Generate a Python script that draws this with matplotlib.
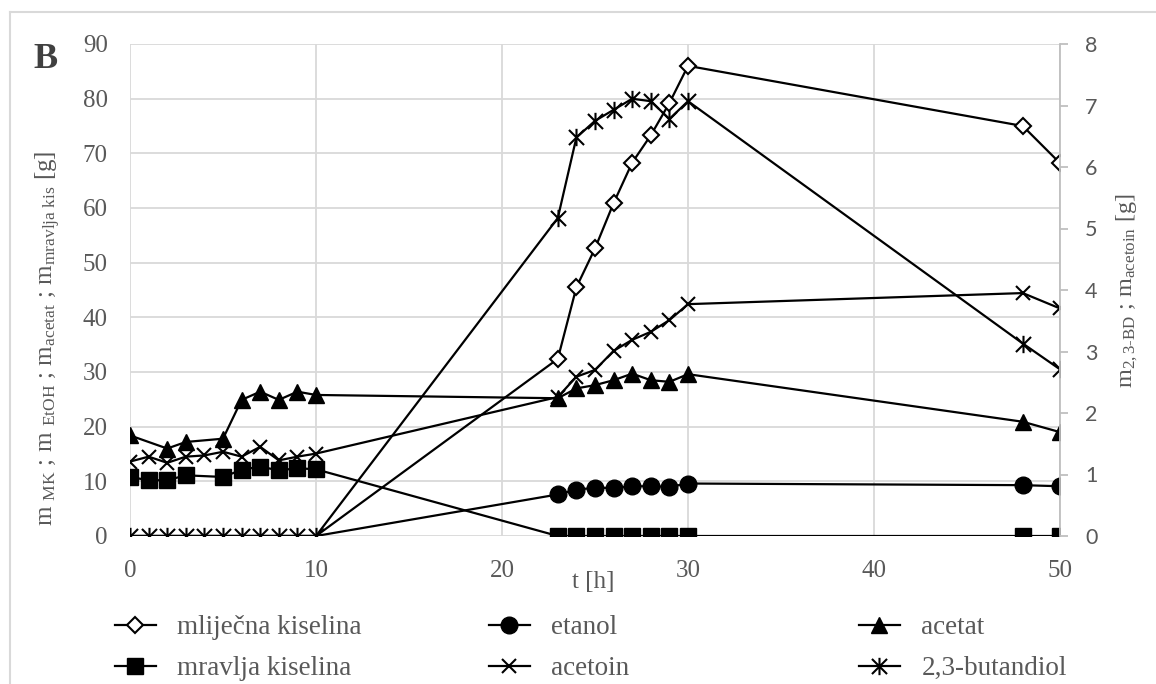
import numpy as np
import matplotlib
matplotlib.use("Agg")
import matplotlib.pyplot as plt
from matplotlib.path import Path
from matplotlib.lines import Line2D

plt.rcParams["font.family"] = ["Liberation Serif", "DejaVu Serif"]
plt.rcParams["mathtext.fontset"] = "custom"
plt.rcParams["mathtext.rm"] = "Liberation Serif"
plt.rcParams["mathtext.it"] = "Liberation Serif:italic"

# sampling times [h]
t = [0, 1, 2, 3, 4, 5, 6, 7, 8, 9, 10, 23, 24, 25, 26, 27, 28, 29, 30, 48, 50]

# left axis [g]
mlijecna = [0] * 11 + [32.4, 45.5, 52.6, 60.9, 68.3, 73.3, 79.2, 86.0, 75.0, 68.2]
etanol = [0] * 11 + [7.6, 8.5, 8.8, 8.8, 9.1, 9.1, 9.0, 9.6, 9.3, 9.1]
acetat = [18.4, None, 16.0, 17.2, None, 17.8, 24.9, 26.4, 24.9, 26.4, 25.8,
          25.2, 27.0, 27.6, 28.5, 29.7, 28.5, 28.2, 29.6, 20.9, 19.0]
mravlja = [10.8, 10.2, 10.2, 11.1, None, 10.8, 12.1, 12.7, 12.0, 12.4, 12.2] + [0] * 10

# right axis [g]
acetoin = [1.21, 1.29, 1.19, 1.29, 1.31, 1.37, 1.29, 1.45, 1.23, 1.29, 1.34,
           2.26, 2.59, 2.70, 3.01, 3.19, 3.32, 3.51, 3.77, 3.95, 3.70]
butandiol = [0] * 11 + [5.17, 6.48, 6.75, 6.93, 7.11, 7.07, 6.78, 7.07, 3.13, 2.71]

left_ticks = [0, 10, 20, 30, 40, 50, 60, 70, 80, 90]
right_ticks = [0, 1, 2, 3, 4, 5, 6, 7, 8]
x_ticks = [0, 10, 20, 30, 40, 50]

GRAY = "#595959"
GRID = "#d9d9d9"

# excel style star: x with a vertical bar
star = Path([(-1, -1), (1, 1), (-1, 1), (1, -1), (0, -1.15), (0, 1.15)],
            [Path.MOVETO, Path.LINETO, Path.MOVETO, Path.LINETO, Path.MOVETO, Path.LINETO])


def pts(xs, ys):
    keep = [(a, b) for a, b in zip(xs, ys) if b is not None]
    return [a for a, b in keep], [b for a, b in keep]


fig = plt.figure(figsize=(11.56, 6.84), dpi=100)
W, H = 1156, 684
ax = fig.add_axes([130 / W, (H - 536) / H, (1060 - 130) / W, (536 - 44) / H])
ax2 = ax.twinx()

# markers of the zero points before 10 h are not visible in the original
late = list(range(11, len(t)))
styles = [
    (ax, mlijecna, "mliječna kiselina", dict(marker="D", ms=8, mfc="white", mec="black", mew=1.5, markevery=late)),
    (ax, etanol, "etanol", dict(marker="o", ms=12, mfc="black", mec="black", markevery=late)),
    (ax, acetat, "acetat", dict(marker="^", ms=12, mfc="black", mec="black")),
    (ax, mravlja, "mravlja kiselina", dict(marker="s", ms=12, mfc="black", mec="black")),
    (ax2, acetoin, "acetoin", dict(marker="x", ms=10.5, mec="black", mew=1.5)),
    (ax2, butandiol, "2,3-butandiol", dict(marker=star, ms=12.5, mfc="none", mec="black", mew=1.5)),
]
handles = []
for a, ys, name, kw in styles:
    xs, vs = pts(t, ys)
    ln, = a.plot(xs, vs, color="black", lw=1.6, label=name, **kw)
    handles.append(ln)

ax.set_xlim(0, 50)
ax.set_ylim(0, 90)
ax2.set_ylim(0, 8)
ax.set_xticks(x_ticks)
ax.set_yticks(left_ticks)
ax2.set_yticks(right_ticks)
ax.grid(True, color=GRID, lw=1.3)
ax.set_axisbelow(True)
for s in ax.spines.values():
    s.set_visible(False)
for s in ["top", "left", "bottom"]:
    ax2.spines[s].set_visible(False)
ax2.spines["right"].set_color("#bfbfbf")
ax2.spines["right"].set_linewidth(1.3)

ax.tick_params(axis="both", length=0, labelsize=18, labelcolor=GRAY)
ax.tick_params(axis="y", pad=16)
ax.tick_params(axis="x", pad=17)
ax2.tick_params(axis="y", length=6, width=1.3, color="#bfbfbf", labelcolor=GRAY, pad=12)
for lb in ax2.get_yticklabels():
    lb.set_fontfamily("Lato")
    lb.set_fontsize(15.5)

fig.text(593 / W, 1 - 582 / H, "t [h]", ha="center", va="center", fontsize=18, color=GRAY)
fig.text(48 / W, 1 - 338 / H,
         r"m $_{\mathrm{MK}}$ ; m $_{\mathrm{EtOH}}$ ; m$_{\mathrm{acetat}}$ ; m$_{\mathrm{mravlja\ kis}}$ [g]",
         rotation=90, ha="center", va="center", fontsize=18, color=GRAY)
fig.text(1127 / W, 1 - 291 / H,
         r"m$_{\mathrm{2,3\text{-}BD}}$ ; m$_{\mathrm{acetoin}}$ [g]",
         rotation=90, ha="center", va="center", fontsize=17.5, color=GRAY)
fig.text(45 / W, 1 - 60 / H, "B", ha="center", va="center", fontsize=26,
         fontweight="bold", color="#404040")

# outer chart frame (only left and top edges are inside the picture)
fig.add_artist(Line2D([10 / W, 10 / W], [0, 1 - 12 / H], color=GRID, lw=1.5))
fig.add_artist(Line2D([10 / W, 1], [1 - 12 / H, 1 - 12 / H], color=GRID, lw=1.5))

# legend: three columns of two entries
for col, x0 in enumerate([115, 489, 859]):
    hs = [handles[col], handles[col + 3]]
    fig.legend(hs, [h.get_label() for h in hs], loc="upper left",
               bbox_to_anchor=(x0 / W, 1 - 615 / H), frameon=False, fontsize=19.5,
               labelcolor=GRAY, handlelength=1.5, handletextpad=0.8,
               borderpad=0, borderaxespad=0, labelspacing=0.6)

fig.savefig("out.png", dpi=100)
